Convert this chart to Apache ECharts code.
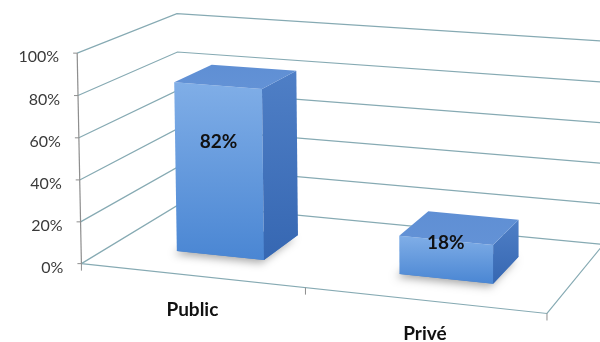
<!DOCTYPE html>
<html>
<head>
<meta charset="utf-8">
<script src="https://cdn.jsdelivr.net/npm/echarts@6/dist/echarts.min.js"></script>
<style>
  html, body { margin: 0; padding: 0; background: #ffffff; }
  #chart { width: 600px; height: 342px; }
</style>
</head>
<body>
<div id="chart"></div>
<script>
// ---- data ----
const categories = ['Public', 'Privé'];
const shares = [82, 18];
const yTicks = [0, 20, 40, 60, 80, 100];
const yTickLabels = ['0%', '20%', '40%', '60%', '80%', '100%'];

// ---- 3D frame ----
// World space: X runs over the categories (0..n), Y over the value range (0..1),
// Z over the depth of the floor (0 = front, 1 = back wall).
// Screen anchors of the frame corners calibrate a perspective camera (3x4 projection).
const frameAnchors = [
  [[0, 0, 0], [83, 262]],
  [[0, 1, 0], [76, 53]],
  [[0, 0, 1], [178, 206]],
  [[0, 1, 1], [177, 13]],
  [[0, 0.8, 1], [179, 52]],
  [[1, 0, 0], [305, 288]],
  [[2, 0, 0], [547, 315]],
  [[2, 0, 1], [604, 242]],
  [[2, 1, 1], [604, 42]]
];

const BAR_WIDTH = 0.4;   // share of a category slot (gap width 150%)
const BAR_DEPTH = 0.4;   // share of the floor depth (gap depth 150%)

const GRID_COLOR = '#86aab3';
const AXIS_COLOR = '#8e8e8e';

function fitCamera(anchors) {
  const rows = [], rhs = [];
  anchors.forEach(([[X, Y, Z], [u, v]]) => {
    rows.push([X, Y, Z, 1, 0, 0, 0, 0, -u * X, -u * Y, -u * Z]); rhs.push(u);
    rows.push([0, 0, 0, 0, X, Y, Z, 1, -v * X, -v * Y, -v * Z]); rhs.push(v);
  });
  const n = 11;
  const M = Array.from({ length: n }, () => new Array(n + 1).fill(0));
  rows.forEach((r, k) => {
    for (let i = 0; i < n; i++) {
      for (let j = 0; j < n; j++) M[i][j] += r[i] * r[j];
      M[i][n] += r[i] * rhs[k];
    }
  });
  for (let c = 0; c < n; c++) {
    let piv = c;
    for (let r = c + 1; r < n; r++) if (Math.abs(M[r][c]) > Math.abs(M[piv][c])) piv = r;
    const tmp = M[c]; M[c] = M[piv]; M[piv] = tmp;
    for (let r = 0; r < n; r++) {
      if (r === c) continue;
      const f = M[r][c] / M[c][c];
      for (let k = c; k <= n; k++) M[r][k] -= f * M[c][k];
    }
  }
  return M.map((row, i) => row[n] / row[i]);
}

const cam = fitCamera(frameAnchors);
function proj(X, Y, Z) {
  const w = cam[8] * X + cam[9] * Y + cam[10] * Z + 1;
  return [
    (cam[0] * X + cam[1] * Y + cam[2] * Z + cam[3]) / w,
    (cam[4] * X + cam[5] * Y + cam[6] * Z + cam[7]) / w
  ];
}

// map a point of the (hidden) cartesian grid to world X / Y
function toWorld(params, api, cat, value) {
  const cs = params.coordSys;
  const p = api.coord([cat, value]);
  return [
    (p[0] - cs.x) / cs.width * categories.length,
    (cs.y + cs.height - p[1]) / cs.height
  ];
}
function slotWidth(params, api) {
  return api.size([1, 0])[0] / params.coordSys.width * categories.length;
}

const NX = categories.length;

// gridlines on the left and back walls, with the value labels
function renderWalls(params, api) {
  const t = api.value(1);
  const Y = toWorld(params, api, 0, t)[1];
  const a = proj(0, Y, 0), b = proj(0, Y, 1), c = proj(NX, Y, 1);
  return {
    type: 'group',
    children: [
      { type: 'polyline', shape: { points: [a, b, c] },
        style: { stroke: GRID_COLOR, lineWidth: 1.2, fill: null } },
      { type: 'line', shape: { x1: a[0] - 4, y1: a[1], x2: a[0], y2: a[1] },
        style: { stroke: AXIS_COLOR, lineWidth: 1 } },
      { type: 'text',
        style: { text: yTickLabels[params.dataIndex], x: a[0] - 18, y: a[1] + 4,
          align: 'right', verticalAlign: 'middle',
          font: '16px Lato, "Open Sans", sans-serif', fill: '#3a3a3a' } }
    ]
  };
}

// floor edges and the value axis line
function renderFloor(params, api) {
  const fl = proj(0, 0, 0), fr = proj(NX, 0, 0), br = proj(NX, 0, 1), tl = proj(0, 1, 0);
  return {
    type: 'group',
    children: [
      { type: 'polyline', shape: { points: [fl, fr, br] },
        style: { stroke: GRID_COLOR, lineWidth: 1.2, fill: null } },
      { type: 'line', shape: { x1: fl[0], y1: fl[1], x2: tl[0], y2: tl[1] },
        style: { stroke: AXIS_COLOR, lineWidth: 1.2 } }
    ]
  };
}

// category ticks and names along the front edge
function renderCategories(params, api) {
  const i = api.value(0);
  const Xc = toWorld(params, api, i, 0)[0];
  const w = slotWidth(params, api);
  const children = [];
  const tickAt = (X) => {
    const p = proj(X, 0, 0);
    children.push({ type: 'line', shape: { x1: p[0], y1: p[1], x2: p[0], y2: p[1] + 7 },
      style: { stroke: AXIS_COLOR, lineWidth: 1 } });
  };
  tickAt(Xc - w / 2);
  if (i === NX - 1) tickAt(Xc + w / 2);
  const lp = proj(Xc, 0, 0);
  children.push({ type: 'text',
    style: { text: categories[i], x: lp[0] + 1, y: lp[1] + 34, align: 'center', verticalAlign: 'middle',
      font: 'bold 19px Lato, "Open Sans", sans-serif', fill: '#111111' } });
  return { type: 'group', children };
}

function grad(c0, c1) {
  return new echarts.graphic.LinearGradient(0, 0, 0, 1, [
    { offset: 0, color: c0 }, { offset: 1, color: c1 }
  ]);
}

// 3D columns
function renderBars(params, api) {
  const i = api.value(0), v = api.value(1);
  const [Xc, Yt] = toWorld(params, api, i, v);
  const hw = BAR_WIDTH / 2 * slotWidth(params, api);
  const xl = Xc - hw, xr = Xc + hw;
  const zf = 0.5 - BAR_DEPTH / 2, zb = 0.5 + BAR_DEPTH / 2;
  const poly = (pts, fill, extra) => ({
    type: 'polygon', shape: { points: pts.map(p => proj(p[0], p[1], p[2])) },
    style: Object.assign({ fill: fill, stroke: null }, extra || {})
  });
  const labelY = Yt * 0.6 + 0.06;
  const lp = proj(Xc, labelY, zf);
  return {
    type: 'group',
    children: [
      poly([[xl, 0, zf], [xr, 0, zf], [xr, 0, zb], [xl, 0, zb]], '#4a80c8',
        { shadowBlur: 9, shadowOffsetX: -3, shadowOffsetY: 3, shadowColor: 'rgba(0,0,0,0.35)' }),
      poly([[xl, 0, zf], [xr, 0, zf], [xr, Yt, zf], [xl, Yt, zf]], grad('#80aee7', '#4a86d3')),
      poly([[xr, 0, zf], [xr, 0, zb], [xr, Yt, zb], [xr, Yt, zf]], grad('#4f7fc6', '#3667b2')),
      poly([[xl, Yt, zf], [xr, Yt, zf], [xr, Yt, zb], [xl, Yt, zb]], grad('#5f8fd4', '#6392d6')),
      { type: 'text',
        style: { text: v + '%', x: lp[0], y: lp[1], align: 'center', verticalAlign: 'middle',
          font: 'bold 19px Lato, "Open Sans", sans-serif', fill: '#111111' } }
    ]
  };
}

const chart = echarts.init(document.getElementById('chart'), null, { renderer: 'canvas' });
chart.setOption({
  animation: false,
  backgroundColor: '#ffffff',
  grid: { left: 0, top: 0, width: 200, height: 100, show: false },
  xAxis: { type: 'category', data: categories, show: false },
  yAxis: { type: 'value', min: 0, max: 100, interval: 20, show: false },
  series: [
    { type: 'custom', name: 'walls', clip: false, z: 1, silent: true,
      data: yTicks.map(t => [0, t]), renderItem: renderWalls },
    { type: 'custom', name: 'floor', clip: false, z: 2, silent: true,
      data: [[0, 0]], renderItem: renderFloor },
    { type: 'custom', name: 'categories', clip: false, z: 2, silent: true,
      data: categories.map((c, i) => [i, 0]), renderItem: renderCategories },
    { type: 'custom', name: 'Part', clip: false, z: 3,
      data: shares.map((v, i) => [i, v]), renderItem: renderBars }
  ]
});
</script>
</body>
</html>
